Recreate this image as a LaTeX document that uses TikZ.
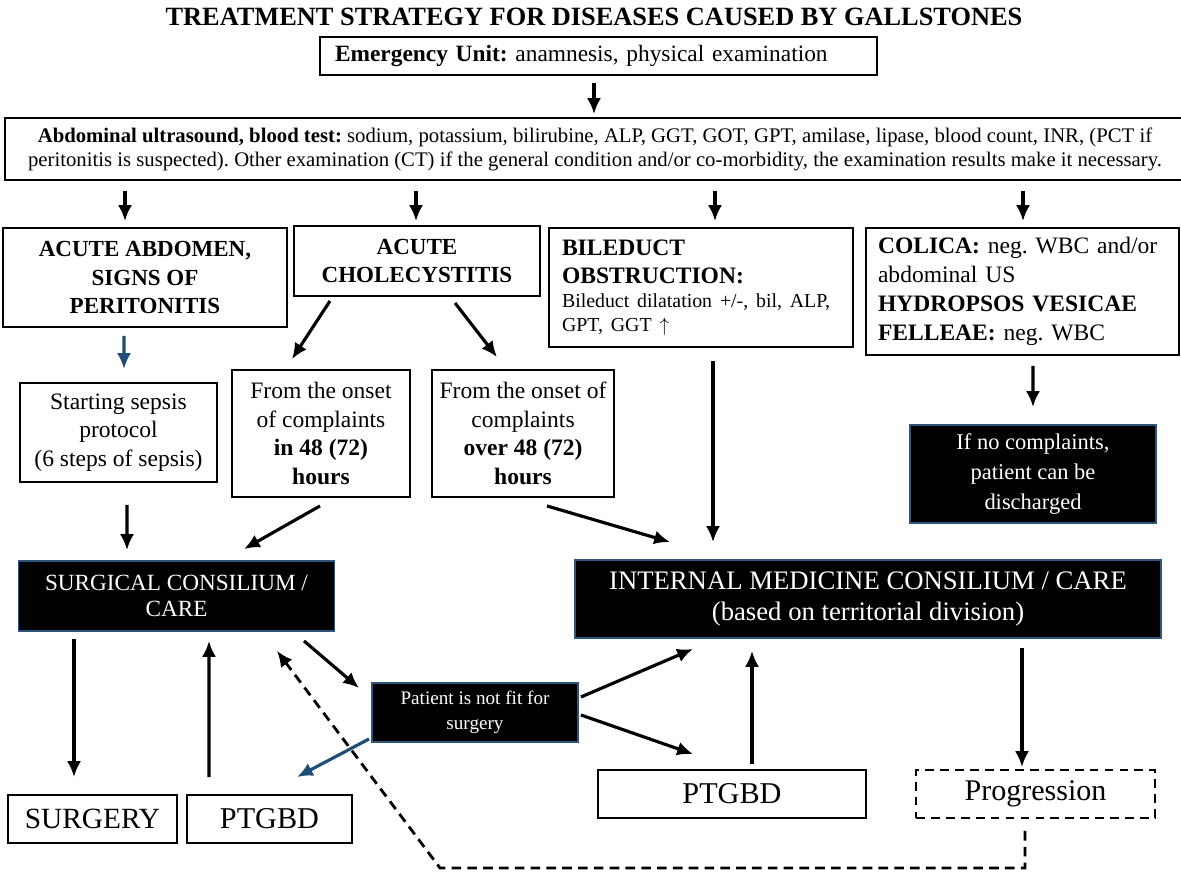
\documentclass[tikz,border=0pt]{standalone}
\usepackage{fontspec}
\setmainfont{Liberation Serif}
\usetikzlibrary{calc,arrows.meta}
\definecolor{boxblue}{RGB}{47,85,125}
\definecolor{arrowblue}{RGB}{31,78,121}
\frenchspacing
\begin{document}
\begin{tikzpicture}
	[x=0.02cm,y=-0.02cm,
	box/.style={draw,line width=1.1pt,inner sep=0pt,align=center,font=\fontsize{13.4}{16.2}\selectfont},
	darkbox/.style={box,fill=black,draw=boxblue,text=white},
	arr/.style={->,line width=1.8pt},
	>={Latex[length=9pt,width=8pt]}]
	\useasboundingbox (0,0) rectangle (1181,878);
	\node[name=title,font=\bfseries\fontsize{15}{18}\selectfont]at(594,17){TREATMENT STRATEGY FOR DISEASES CAUSED BY GALLSTONES};
	\node[box,name=emerg,minimum width=11.14cm,minimum height=0.76cm,text width=10.54cm,align=left,font=\fontsize{13.3}{16}\selectfont]at(598.5,56){\textbf{Emergency Unit:} anamnesis, physical examination};
	\node[box,name=abd,minimum width=23.6cm,minimum height=1.24cm,font=\fontsize{11.8}{13.6}\selectfont]at(595,149){\textbf{Abdominal ultrasound, blood test:} sodium, potassium, bilirubine, ALP, GGT, GOT, GPT, amilase, lipase, blood count, INR, (PCT if\\peritonitis is suspected). Other examination (CT) if the general condition and/or co-morbidity, the examination results make it necessary.};
	\node[box,name=acab,minimum width=5.68cm,minimum height=1.98cm,font=\bfseries\fontsize{13.1}{16.4}\selectfont]at(145,277.5){ACUTE ABDOMEN,\\SIGNS OF\\PERITONITIS};
	\node[box,name=chole,minimum width=4.92cm,minimum height=1.4cm,font=\bfseries\fontsize{13.1}{16.4}\selectfont]at(417,261){ACUTE\\CHOLECYSTITIS};
	\node[box,name=bile,minimum width=6.08cm,minimum height=2.38cm,text width=5.56cm,align=left]at(701,287.5){\textbf{BILEDUCT\\OBSTRUCTION:}\par\fontsize{11.3}{13.6}\selectfont Bileduct dilatation +/-, bil, ALP,\\GPT, GGT $\uparrow$\par};
	\node[box,name=colica,minimum width=6.26cm,minimum height=2.54cm,text width=5.78cm,align=left,font=\fontsize{13.4}{16.4}\selectfont]at(1022.5,291.5){\textbf{COLICA:} neg. WBC and/or\\abdominal US\\\textbf{HYDROPSOS VESICAE}\\\textbf{FELLEAE:} neg. WBC};
	\node[box,name=sepsis,minimum width=3.94cm,minimum height=1.98cm]at(118.5,432.5){Starting sepsis\\protocol\\(6 steps of sepsis)};
	\node[box,name=in48,minimum width=3.56cm,minimum height=2.54cm]at(321,433.5){From the onset\\of complaints\\\textbf{in 48 (72)}\\\textbf{hours}};
	\node[box,name=over48,minimum width=3.64cm,minimum height=2.54cm]at(523,433.5){From the onset of\\complaints\\\textbf{over 48 (72)}\\\textbf{hours}};
	\node[darkbox,name=discharge,minimum width=4.92cm,minimum height=1.96cm,font=\fontsize{12.8}{17}\selectfont]at(1033,474){If no complaints,\\patient can be\\discharged};
	\node[darkbox,name=surg,minimum width=6.32cm,minimum height=1.4cm,font=\fontsize{13.2}{14.7}\selectfont]at(176.5,596){SURGICAL CONSILIUM /\\CARE};
	\node[darkbox,name=intern,minimum width=11.72cm,minimum height=1.56cm,font=\fontsize{15.2}{17.6}\selectfont]at(868,599){INTERNAL MEDICINE CONSILIUM / CARE\\(based on territorial division)};
	\node[darkbox,name=notfit,minimum width=4.12cm,minimum height=1.18cm,font=\fontsize{10.9}{14.2}\selectfont]at(475,712.5){Patient is not fit for\\surgery};
	\node[box,name=surgery,minimum width=3.38cm,minimum height=0.96cm,font=\fontsize{16.7}{20}\selectfont]at(92.5,819){SURGERY};
	\node[box,name=ptl,minimum width=3.3cm,minimum height=0.96cm,font=\fontsize{17.2}{20}\selectfont]at(269.5,819){PTGBD};
	\node[box,name=ptr,minimum width=5.36cm,minimum height=0.96cm,font=\fontsize{17.2}{20}\selectfont]at(732,794){PTGBD};
	\node[box,name=prog,dash pattern=on 5pt off 3.5pt,minimum width=4.78cm,minimum height=0.96cm,font=\fontsize{17.1}{20}\selectfont]at(1035.5,794){Progression};
	\coordinate (turn) at (440,868);
	% first row
	\draw[arr] ($(emerg.south)+(-4.5,7)$) -- ($(abd.north)+(-1,-3)$);
	\draw[arr] ($(abd.south -| acab.north)+(-20,10)$) -- ($(acab.north)+(-20,-6)$);
	\draw[arr] ($(abd.south -| chole.north)+(-1,10)$) -- ($(chole.north)+(-1,-4)$);
	\draw[arr] ($(abd.south -| bile.north)+(14,10)$) -- ($(bile.north)+(14,-6)$);
	\draw[arr] ($(abd.south -| colica.north)+(0.5,10)$) -- ($(colica.north)+(0.5,-6)$);
	% diagnoses
	\draw[arr,arrowblue] ($(acab.south)+(-21,8)$) -- ($(sepsis.north)+(5.5,-13)$);
	\draw[arr] ($(chole.south)+(-87,4)$) -- ($(in48.north)+(-29,-10)$);
	\draw[arr] ($(chole.south)+(38,6)$) -- ($(over48.north)+(-26,-12)$);
	\draw[arr] ($(bile.south)+(12,13)$) -- ($(bile.south |- intern.north)+(12,-17)$);
	\draw[arr] ($(colica.south)+(10.5,10)$) -- ($(discharge.north)+(0,-17)$);
	% consilium
	\draw[arr] ($(sepsis.south)+(8.5,22)$) -- ($(surg.north)+(-49.5,-10)$);
	\draw[arr] ($(in48.south)+(-1,8)$) -- ($(surg.north)+(67.5,-11)$);
	\draw[arr] ($(over48.south)+(24,8)$) -- ($(intern.north)+(-198,-17)$);
	% care
	\draw[arr] ($(surg.south)+(-102.5,7)$) -- ($(surgery.north)+(-18.5,-17)$);
	\draw[arr] ($(ptl.north)+(-60.5,-17)$) -- ($(surg.south)+(32.5,9)$);
	\draw[arr] ($(surg.south)+(127.5,9)$) -- ($(notfit.west)+(-12,-24.5)$);
	\draw[arr] ($(notfit.east)+(2,-15.5)$) -- ($(intern.south)+(-175,10)$);
	\draw[arr] ($(notfit.east)+(2,2.5)$) -- ($(ptr.north)+(-39,-15)$);
	\draw[arr,arrowblue] ($(notfit.south west)+(-2,-4)$) -- ($(ptl.north)+(27.5,-17)$);
	\draw[arr] ($(ptr.north)+(20,-5)$) -- ($(ptr.north |- intern.south)+(20,12)$);
	\draw[arr] ($(intern.south)+(154,9)$) -- ($(prog.north)+(-13.5,-2)$);
	\draw[arr,line width=1.6pt,dash pattern=on 5.5pt off 3.5pt] ($(prog.south)+(-10.5,12)$) |- (turn) -- ($(surg.south)+(100.5,19)$);
\end{tikzpicture}
\end{document}
